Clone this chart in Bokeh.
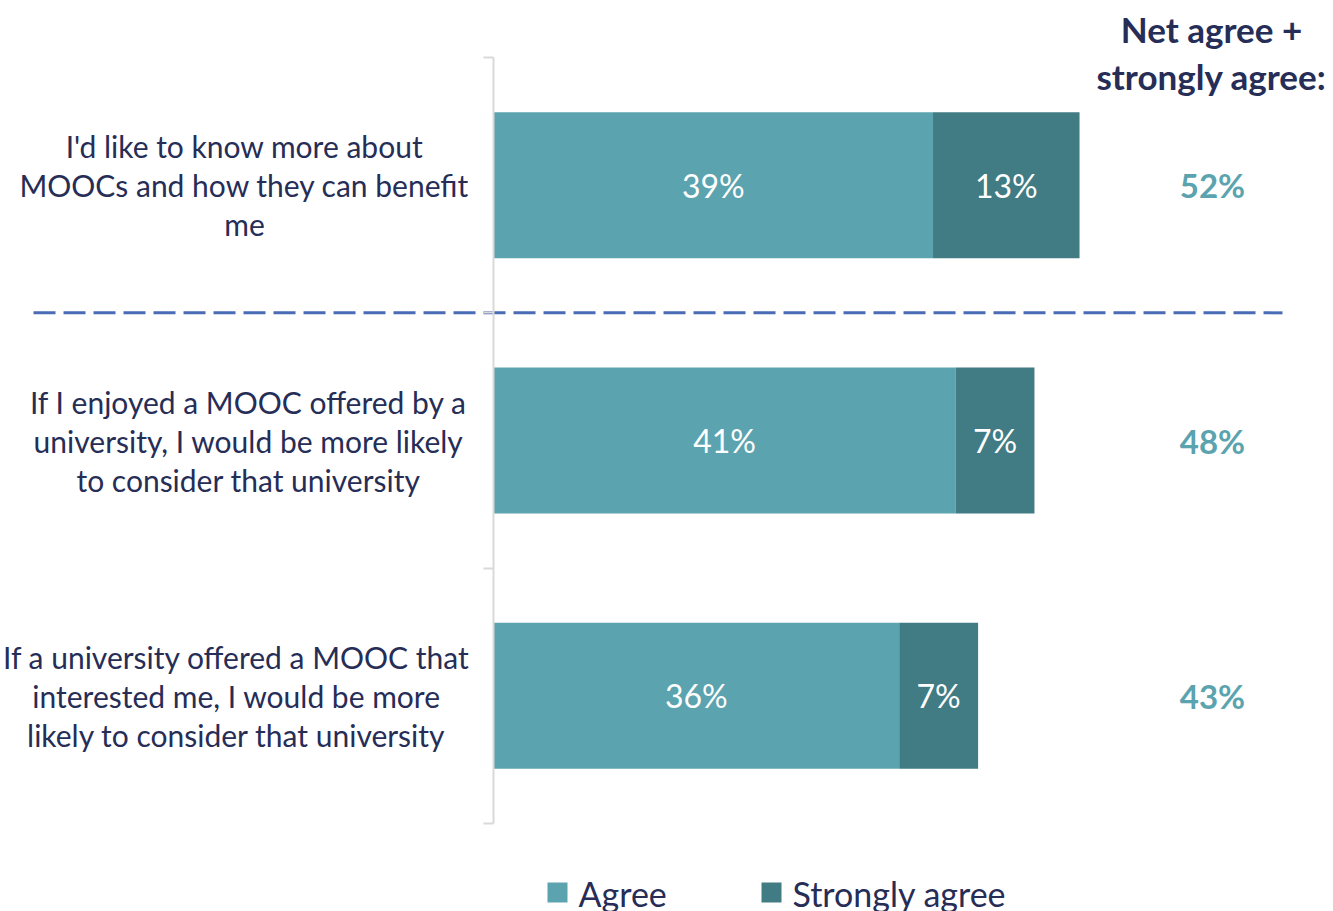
from bokeh.plotting import figure
from bokeh.models import Range1d, LinearAxis, FixedTicker, ColumnDataSource
from bokeh.core.properties import value
from bokeh.embed import file_html
from bokeh.resources import INLINE

# ---------------- data ----------------
statements = [
    "I'd like to know more about\nMOOCs and how they can benefit\nme",
    "If I enjoyed a MOOC offered by a\nuniversity, I would be more likely\nto consider that university",
    "If a university offered a MOOC that\ninterested me, I would be more\nlikely to consider that university",
]
agree = [39, 41, 36]
strongly_agree = [13, 7, 7]
net = [52, 48, 43]
series_names = ["Agree", "Strongly agree"]
header_lines = ["Net agree +", "strongly agree:"]

# ---------------- style ----------------
C_AGREE = "#5BA3AE"
C_STRONG = "#417B84"
C_TEXT = "#262D56"
C_AXIS = "#D9D9D9"
C_DASH = "#4A6CB6"
FONT = "Lato"

# ---------------- layout (pixel -> data helpers) ----------------
W, H = 1333, 911
X0_PX = 493.0        # canvas px of 0 %
PX_PER_PCT = 11.27
Y0_PX = 823.0        # canvas px of lowest band boundary
PX_PER_ROW = 255.33
LABEL_CX_PX = [244, 248, 236]   # horizontal centres of statement label blocks


def dx(sx):
    return (sx - X0_PX) / PX_PER_PCT


def dy(sy):
    return (Y0_PX - sy) / PX_PER_ROW


n = len(statements)
ys = [n - 0.5 - i for i in range(n)]
totals = [a + s for a, s in zip(agree, strongly_agree)]

src = ColumnDataSource(dict(
    y=ys, agree=agree, strong=strongly_agree, total=totals,
    agree_mid=[a / 2 for a in agree],
    strong_mid=[a + s / 2 for a, s in zip(agree, strongly_agree)],
    agree_lbl=[f"{a}%" for a in agree],
    strong_lbl=[f"{s}%" for s in strongly_agree],
    net_lbl=[f"{v}%" for v in net],
    stmt=statements,
    stmt_x=[dx(c) for c in LABEL_CX_PX],
))

p = figure(width=W, height=H, output_backend="svg", toolbar_location=None,
           x_range=Range1d(dx(0), dx(W)), y_range=Range1d(dy(H), dy(0)),
           min_border=0, outline_line_color=None, background_fill_color="white",
           border_fill_color="white")
p.xaxis.visible = False
p.yaxis.visible = False
p.grid.visible = False

bar_h = 146 / PX_PER_ROW
p.hbar(y="y", left=0, right="agree", height=bar_h, source=src,
       fill_color=C_AGREE, line_color=None)
p.hbar(y="y", left="agree", right="total", height=bar_h, source=src,
       fill_color=C_STRONG, line_color=None)

# vertical category axis with boundary ticks
yax = LinearAxis(fixed_location=0, ticker=FixedTicker(ticks=list(range(n + 1))),
                 bounds=(0, n), major_label_overrides={i: "" for i in range(n + 1)},
                 axis_line_color=C_AXIS, axis_line_width=2,
                 major_tick_line_color=C_AXIS, major_tick_line_width=2,
                 major_tick_in=0, major_tick_out=10,
                 minor_tick_line_color=None, major_label_text_font_size="0px")
p.add_layout(yax, "left")

# dashed separator between first and remaining statements
p.segment(x0=dx(33), x1=dx(1282), y0=n - 1, y1=n - 1,
          line_color=C_DASH, line_width=3, line_dash="22 8")

# bar labels
p.text(x="agree_mid", y="y", text="agree_lbl", source=src, text_align="center",
       text_baseline="middle", text_color="white", text_font=value(FONT),
       text_font_size="32px")
p.text(x="strong_mid", y="y", text="strong_lbl", source=src, text_align="center",
       text_baseline="middle", text_color="white", text_font=value(FONT),
       text_font_size="32px")

# statement labels
p.text(x="stmt_x", y="y", text="stmt", source=src, text_align="center",
       text_baseline="middle", text_color=C_TEXT, text_font=value(FONT),
       text_font_size="30px", text_line_height=39 / 36)

# net values
p.text(x=dx(1212), y="y", text="net_lbl", source=src, text_align="center",
       text_baseline="middle", text_color=C_AGREE, text_font=value(FONT),
       text_font_size="33px", text_font_style="bold")

# header
p.text(x=[dx(1211), dx(1211)], y=[dy(28), dy(75)], text=header_lines,
       text_align="center", text_baseline="middle", text_color=C_TEXT,
       text_font=value(FONT), text_font_size="35px", text_font_style="bold")

# legend
p.scatter(x=[dx(557), dx(771)], y=[dy(892), dy(892)], marker="square", size=20,
          fill_color=[C_AGREE, C_STRONG], line_color=None)
p.text(x=[dx(578), dx(792)], y=[dy(893), dy(893)], text=series_names,
       text_align="left", text_baseline="middle", text_color=C_TEXT,
       text_font=value(FONT), text_font_size="34px")

open("out.html", "w").write(file_html(p, INLINE))
